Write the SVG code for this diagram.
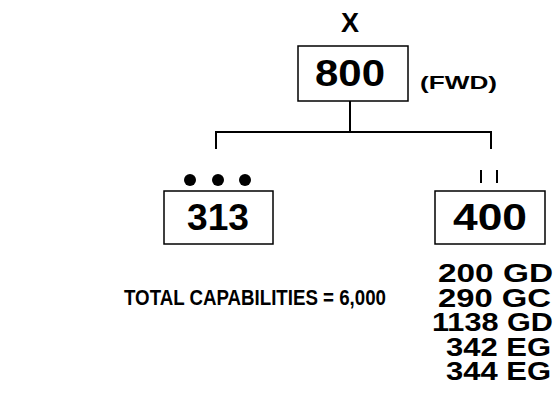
<svg xmlns="http://www.w3.org/2000/svg" width="559" height="413" viewBox="0 0 559 413">
<style>
text{font-family:"Liberation Sans",Arial,sans-serif;font-weight:bold;fill:#000}
.box{fill:#fff;stroke:#000;stroke-width:1.5}
.ln{fill:none;stroke:#000;stroke-width:2}
.big{font-size:36px;text-anchor:middle}
.lst{font-size:26px;text-anchor:end}
</style>
<rect width="559" height="413" fill="#fff"/>
<g id="connectors">
<path class="ln" d="M350,101 V132 M216,149 V132 H491 V149"/>
</g>
<g id="node-800">
<text x="350" y="32" font-size="27" text-anchor="middle">X</text>
<rect class="box" x="298" y="46" width="110" height="55"/>
<text class="big" x="350" y="86" textLength="70" lengthAdjust="spacingAndGlyphs">800</text>
<text x="420" y="89" font-size="18" textLength="77" lengthAdjust="spacingAndGlyphs">(FWD)</text>
</g>
<g id="node-313">
<circle cx="190" cy="180" r="6"/>
<circle cx="218" cy="180" r="6"/>
<circle cx="245" cy="180" r="6"/>
<rect class="box" x="164" y="191" width="109" height="53"/>
<text class="big" x="218" y="230" textLength="62" lengthAdjust="spacingAndGlyphs">313</text>
</g>
<g id="node-400">
<path class="ln" d="M481,170 V183 M497,170 V183"/>
<rect class="box" x="435" y="191" width="110" height="53"/>
<text class="big" x="490" y="230" textLength="74" lengthAdjust="spacingAndGlyphs">400</text>
<text class="lst" x="553" y="282" textLength="115" lengthAdjust="spacingAndGlyphs">200 GD</text>
<text class="lst" x="551" y="307" textLength="113" lengthAdjust="spacingAndGlyphs">290 GC</text>
<text class="lst" x="553" y="331" textLength="121" lengthAdjust="spacingAndGlyphs">1138 GD</text>
<text class="lst" x="551" y="356" textLength="105" lengthAdjust="spacingAndGlyphs">342 EG</text>
<text class="lst" x="551" y="380" textLength="105" lengthAdjust="spacingAndGlyphs">344 EG</text>
</g>
<g id="total">
<text x="124" y="305" font-size="22" textLength="262" lengthAdjust="spacingAndGlyphs">TOTAL CAPABILITIES = 6,000</text>
</g>
</svg>
